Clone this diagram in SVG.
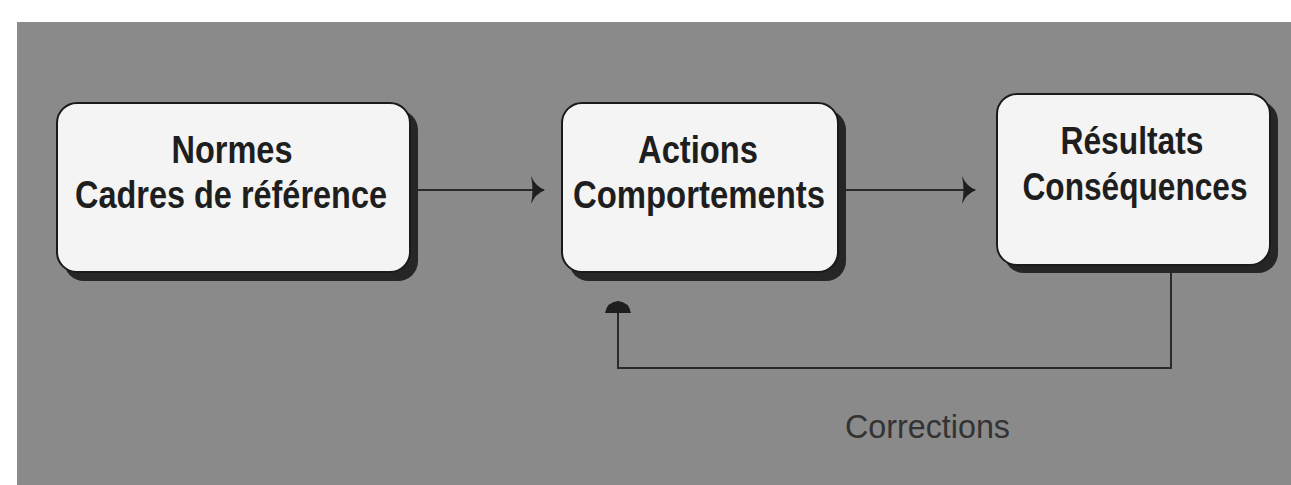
<svg xmlns="http://www.w3.org/2000/svg" width="1291" height="485" viewBox="0 0 1291 485">
  <style>
    .panel { fill: #8a8a8a; }
    .shadow { fill: #262626; }
    .box { fill: #f4f4f4; stroke: #1a1a1a; stroke-width: 2; }
    .label { font-family: "Liberation Sans", Arial, sans-serif; font-weight: bold; font-size: 38px; fill: #1e1e1e; text-anchor: middle; }
    .link { fill: none; stroke: #2a2a2a; stroke-width: 2; }
    .note { font-family: "Liberation Sans", Arial, sans-serif; font-size: 34px; fill: #333333; }
  </style>
  <defs>
    <marker id="head" viewBox="0 0 14 28" refX="13" refY="14" markerWidth="14" markerHeight="28" markerUnits="userSpaceOnUse" orient="auto">
      <path d="M0,0 Q4,10 14,14 Q4,18 0,28 Q3,14 0,0 Z" fill="#1e1e1e"/>
    </marker>
    <marker id="headUp" viewBox="0 0 26 14" refX="13" refY="1" markerWidth="26" markerHeight="14" markerUnits="userSpaceOnUse" orient="0">
      <path d="M0,13 Q2,2 13,1 Q24,2 26,13 Z" fill="#1e1e1e"/>
    </marker>
  </defs>

  <rect width="1291" height="485" fill="#ffffff"/>
  <rect class="panel" x="17" y="22" width="1274" height="463"/>

  <g id="node-normes">
    <rect class="shadow" x="64" y="110" width="354" height="171" rx="20"/>
    <rect class="box" x="57" y="103" width="353" height="169" rx="20"/>
    <text class="label" x="232" y="163" textLength="121" lengthAdjust="spacingAndGlyphs">Normes</text>
    <text class="label" x="231" y="208" textLength="312" lengthAdjust="spacingAndGlyphs">Cadres de référence</text>
  </g>

  <g id="node-actions">
    <rect class="shadow" x="569" y="110" width="277" height="171" rx="20"/>
    <rect class="box" x="562" y="103" width="276" height="169" rx="20"/>
    <text class="label" x="698" y="163" textLength="120" lengthAdjust="spacingAndGlyphs">Actions</text>
    <text class="label" x="699" y="208" textLength="252" lengthAdjust="spacingAndGlyphs">Comportements</text>
  </g>

  <g id="node-resultats">
    <rect class="shadow" x="1004" y="101" width="274" height="172" rx="20"/>
    <rect class="box" x="997" y="94" width="273" height="171" rx="20"/>
    <text class="label" x="1132" y="154" textLength="143" lengthAdjust="spacingAndGlyphs">Résultats</text>
    <text class="label" x="1135" y="200" textLength="225" lengthAdjust="spacingAndGlyphs">Conséquences</text>
  </g>

  <g id="connectors">
    <line class="link" x1="418" y1="190" x2="544" y2="190" marker-end="url(#head)"/>
    <line class="link" x1="846" y1="190" x2="975" y2="190" marker-end="url(#head)"/>
    <polyline class="link" points="1171,273 1171,368 618,368 618,301" marker-end="url(#headUp)"/>
  </g>

  <g id="label-corrections">
    <text class="note" x="845" y="438" textLength="165" lengthAdjust="spacingAndGlyphs">Corrections</text>
  </g>
</svg>
